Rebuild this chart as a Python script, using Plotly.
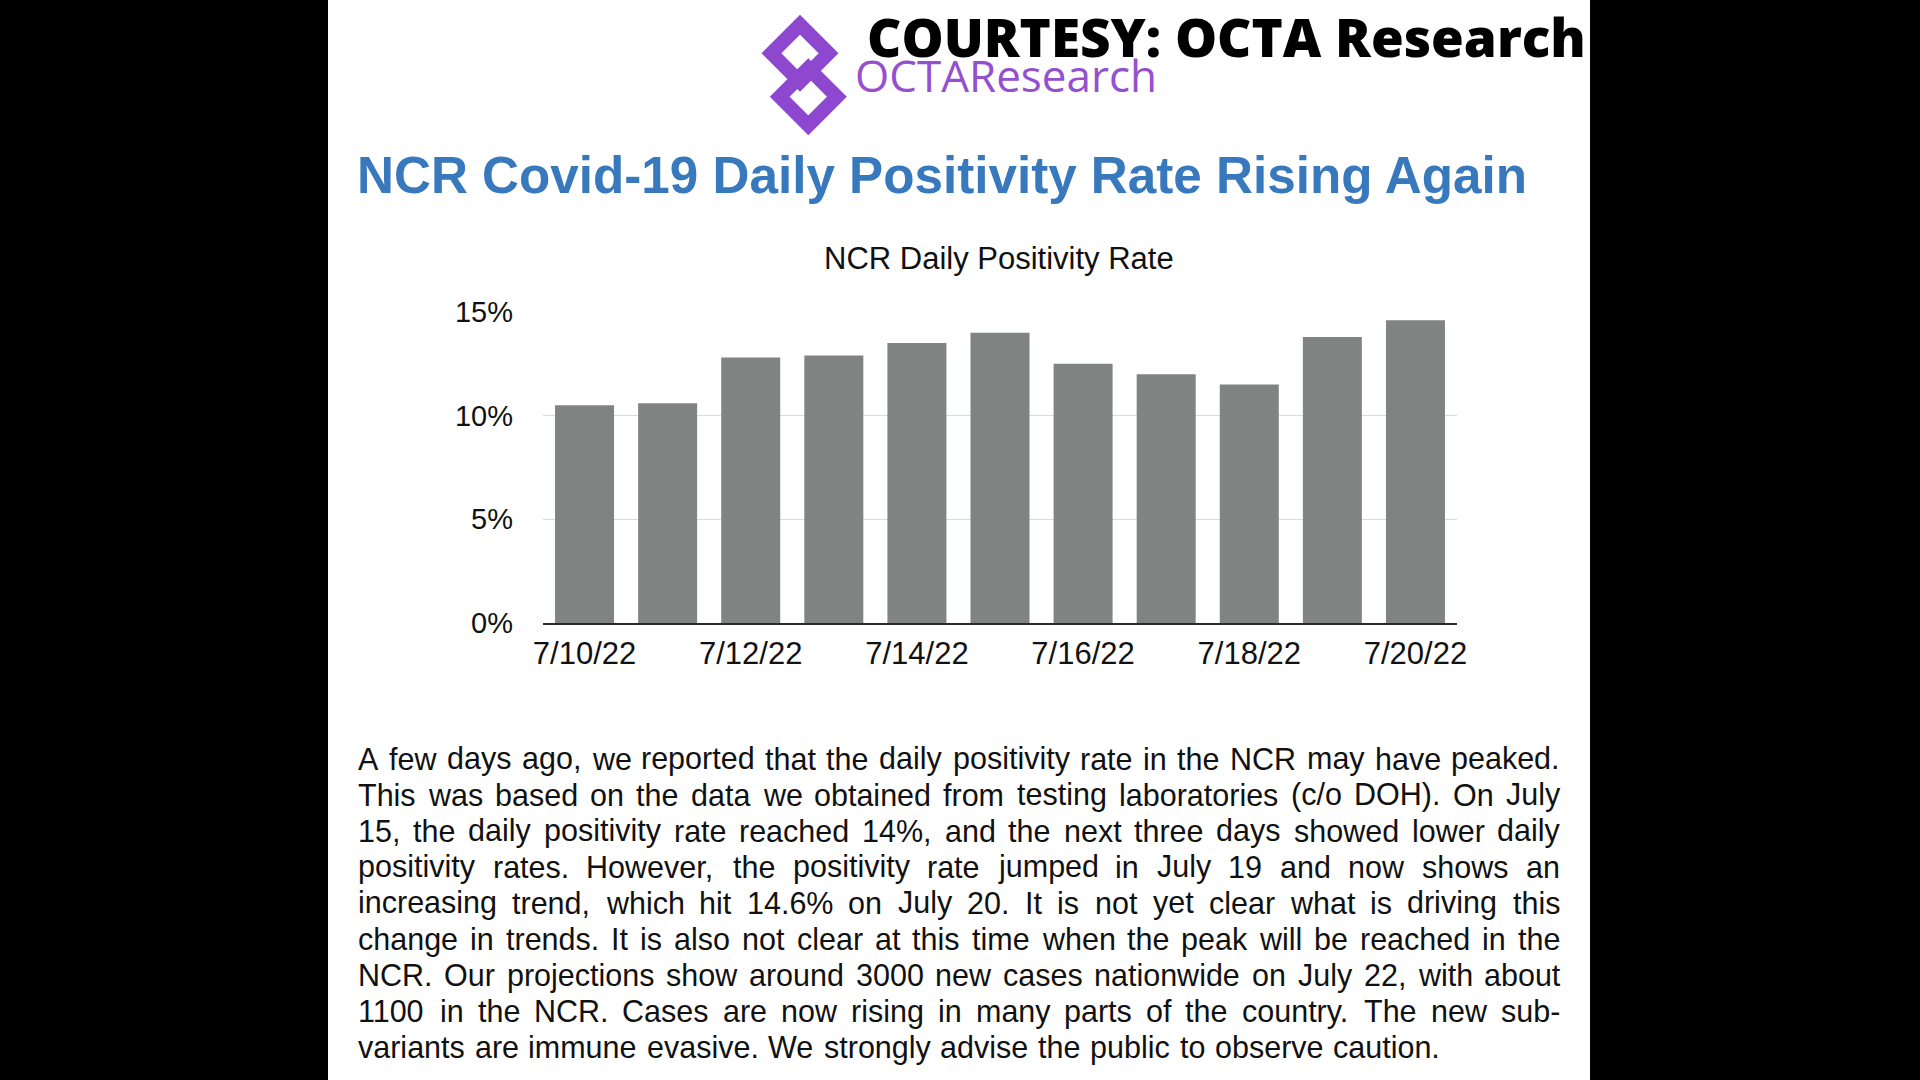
import plotly.graph_objects as go

# ---------------- data ----------------
dates = ["7/10/22", "7/11/22", "7/12/22", "7/13/22", "7/14/22", "7/15/22",
         "7/16/22", "7/17/22", "7/18/22", "7/19/22", "7/20/22"]
positivity = [10.5, 10.6, 12.8, 12.9, 13.5, 14.0, 12.5, 12.0, 11.5, 13.8, 14.6]
x_tick_labels = ["7/10/22", "7/12/22", "7/14/22", "7/16/22", "7/18/22", "7/20/22"]
y_tick_vals = [0, 5, 10, 15]
y_tick_labels = ["0%", "5%", "10%", "15%"]

headline = "NCR Covid-19 Daily Positivity Rate Rising Again"
chart_title = "NCR Daily Positivity Rate"
courtesy = "COURTESY: OCTA Research"
brand = "OCTAResearch"
paragraph_lines = [
    "A few days ago, we reported that the daily positivity rate in the NCR may have peaked.",
    "This was based on the data we obtained from testing laboratories (c/o DOH). On July",
    "15, the daily positivity rate reached 14%, and the next three days showed lower daily",
    "positivity rates. However, the positivity rate jumped in July 19 and now shows an",
    "increasing trend, which hit 14.6% on July 20. It is not yet clear what is driving this",
    "change in trends. It is also not clear at this time when the peak will be reached in the",
    "NCR. Our projections show around 3000 new cases nationwide on July 22, with about",
    "1100 in the NCR. Cases are now rising in many parts of the country. The new sub-",
    "variants are immune evasive. We strongly advise the public to observe caution.",
]

# ---------------- layout geometry (pixels) ----------------
W, H = 1920, 1080
PL, PR, PT, PB = 543, 1457, 312, 623


def px(x):
    return (x - PL) / (PR - PL)


def py(y):
    return (PB - y) / (PB - PT)


SANS = "Liberation Sans, Arial, Helvetica, sans-serif"
BAR_COLOR = "#7f8482"
TITLE_BLUE = "#3878bd"
PURPLE = "#8e47cf"

fig = go.Figure()
fig.add_trace(go.Bar(x=dates, y=positivity, marker=dict(color=BAR_COLOR, line=dict(width=0)),
                     showlegend=False, hoverinfo="x+y"))

fig.update_layout(
    width=W, height=H,
    margin=dict(l=PL, r=W - PR, t=PT, b=H - PB, pad=0),
    paper_bgcolor="black",
    plot_bgcolor="white",
    bargap=0.29,
    showlegend=False,
    font=dict(family=SANS, color="#111111"),
)
fig.update_xaxes(
    type="category", tickmode="array", tickvals=x_tick_labels, ticktext=x_tick_labels,
    showgrid=False, showline=True, linecolor="#2a2a2a", linewidth=2, ticks="",
    tickfont=dict(family=SANS, size=31, color="#111111"), ticklabelstandoff=2,
    zeroline=False,
)
fig.update_yaxes(
    range=[0, 15], tickmode="array", tickvals=y_tick_vals, ticktext=y_tick_labels,
    showgrid=True, gridcolor="#dadada", gridwidth=1, zeroline=False, showline=False,
    ticks="", tickfont=dict(family=SANS, size=29, color="#111111"), ticklabelstandoff=29,
)

shapes = []
# white panel
shapes.append(dict(type="rect", xref="paper", yref="paper", x0=px(328), x1=px(1590),
                   y0=py(1080), y1=py(0), fillcolor="white", line=dict(width=0), layer="below"))


# logo diamonds
def diamond(cx, cy, r):
    pts = [(cx, cy - r), (cx + r, cy), (cx, cy + r), (cx - r, cy)]
    return "M " + " L ".join(f"{px(a):.5f},{py(b):.5f}" for a, b in pts) + " Z"


for cx, cy in [(808.3, 96.7), (800.0, 53.3)]:
    shapes.append(dict(type="path", xref="paper", yref="paper", path=diamond(cx, cy, 28.6),
                       line=dict(color=PURPLE, width=14), fillcolor="rgba(0,0,0,0)"))
fig.update_layout(shapes=shapes)

ann = []
ann.append(dict(text=courtesy, x=px(865), y=py(36), xref="paper", yref="paper",
                xanchor="left", yanchor="middle", showarrow=False,
                font=dict(family="Open Sans, sans-serif", size=53, color="black", weight=800)))
ann.append(dict(text=brand, x=px(853), y=py(75), xref="paper", yref="paper",
                xanchor="left", yanchor="middle", showarrow=False,
                font=dict(family="Open Sans, sans-serif", size=44, color="#9450cf")))
ann.append(dict(text=headline, x=px(355), y=py(176), xref="paper", yref="paper",
                xanchor="left", yanchor="middle", showarrow=False,
                font=dict(family=SANS, size=51.2, color=TITLE_BLUE, weight="bold")))
ann.append(dict(text=chart_title, x=px(999), y=py(258), xref="paper", yref="paper",
                xanchor="center", yanchor="middle", showarrow=False,
                font=dict(family=SANS, size=31, color="#111111")))

# justified paragraph (Arial/Liberation Sans advance widths, 1/1000 em)
AW = {" ": 278, ",": 278, ".": 278, "(": 333, ")": 333, "/": 278, "%": 889, "-": 333, ":": 278}
for ch, w in zip("ABCDEFGHIJKLMNOPQRSTUVWXYZ",
                 [667, 667, 722, 722, 667, 611, 778, 722, 278, 500, 667, 556, 833, 722, 778,
                  667, 778, 722, 667, 611, 722, 667, 944, 667, 667, 611]):
    AW[ch] = w
for ch, w in zip("abcdefghijklmnopqrstuvwxyz",
                 [556, 556, 500, 556, 556, 278, 556, 556, 222, 222, 500, 222, 833, 556, 556,
                  556, 556, 333, 500, 278, 556, 500, 722, 500, 500, 500]):
    AW[ch] = w
for ch in "0123456789":
    AW[ch] = 556

FS = 30.5
LEFT, RIGHT = 357, 1559
TOP_CENTER, LINE_STEP = 758.5, 36.1


def tw(s):
    return sum(AW.get(c, 556) for c in s) * FS / 1000.0


for i, line in enumerate(paragraph_lines):
    words = line.split(" ")
    yc = TOP_CENTER + i * LINE_STEP
    widths = [tw(w) for w in words]
    if i < len(paragraph_lines) - 1 and len(words) > 1:
        gap = (RIGHT - LEFT - sum(widths)) / (len(words) - 1)
    else:
        gap = tw(" ") * 1.15
    xcur = LEFT
    for w, wd in zip(words, widths):
        ann.append(dict(text=w, x=px(xcur - 1), y=py(yc), xref="paper", yref="paper",
                        xanchor="left", yanchor="middle", showarrow=False,
                        font=dict(family=SANS, size=FS, color="#111111")))
        xcur += wd + gap

fig.update_layout(annotations=ann)

fig.write_html("out.html", config={"displayModeBar": False},
               post_script="document.body.style.margin='0';document.body.style.overflow='hidden';")
